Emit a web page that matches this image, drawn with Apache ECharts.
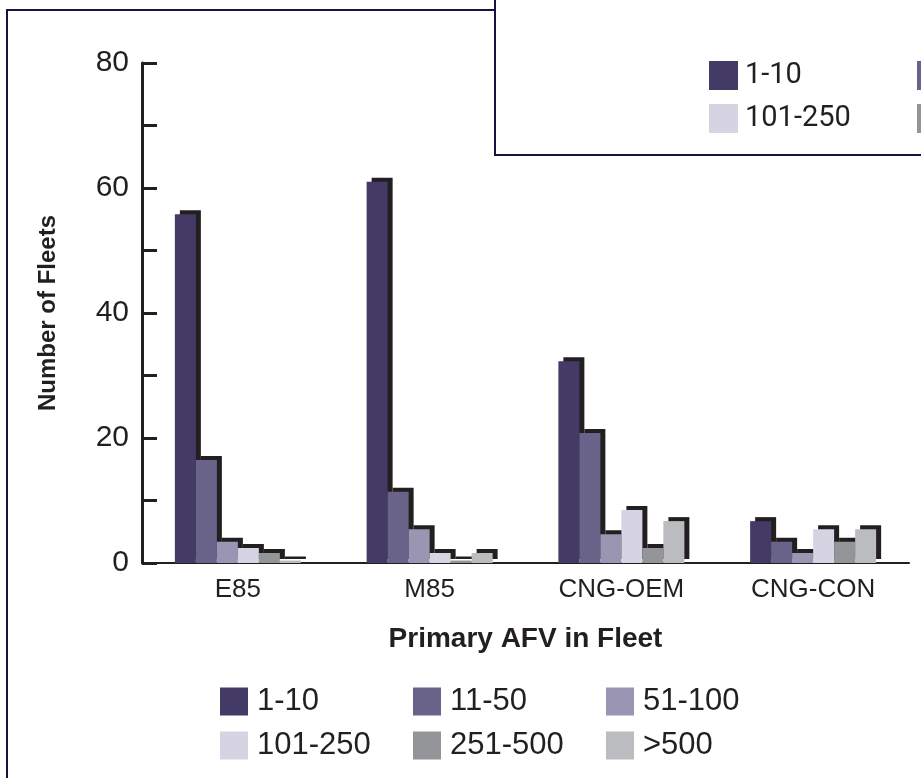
<!DOCTYPE html>
<html>
<head>
<meta charset="utf-8">
<script src="https://cdn.jsdelivr.net/npm/echarts@6/dist/echarts.min.js"></script>
<style>
html,body{margin:0;padding:0;background:#fff;}
#chart{width:921px;height:778px;}
</style>
</head>
<body>
<div id="chart"></div>
<script>
const categories = ['E85', 'M85', 'CNG-OEM', 'CNG-CON'];
const seriesNames = ['1-10', '11-50', '51-100', '101-250', '251-500', '>500'];
const fleet_1_10 = [55.8, 61, 32.3, 6.7];
const fleet_11_50 = [16.5, 11.4, 20.8, 3.4];
const fleet_51_100 = [3.4, 5.4, 4.6, 1.6];
const fleet_101_250 = [2.4, 1.6, 8.5, 5.4];
const fleet_251_500 = [1.6, 0.4, 2.4, 3.4];
const fleet_over_500 = [0.4, 1.6, 6.7, 5.4];
const yTicks = [0, 20, 40, 60, 80];

const seriesValues = [fleet_1_10, fleet_11_50, fleet_51_100, fleet_101_250, fleet_251_500, fleet_over_500];
const colors = ['#433a66', '#6a6389', '#9a95b3', '#d6d3e3', '#949599', '#bbbcc0'];
const ink = '#231f20';
const sans = "'Liberation Sans', Arial, sans-serif";

const chart = echarts.init(document.getElementById('chart'), null, {renderer: 'canvas'});

const series = seriesNames.map((name, i) => ({
  name: name,
  type: 'bar',
  data: seriesValues[i],
  barWidth: 21,
  barGap: '0%',
  itemStyle: {
    color: colors[i],
    shadowColor: ink,
    shadowBlur: 0,
    shadowOffsetX: 5,
    shadowOffsetY: -4
  },
  emphasis: {disabled: true}
}));

const topLegendStyle = {
  selectedMode: false,
  orient: 'vertical',
  top: 61,
  padding: 0,
  itemWidth: 29,
  itemHeight: 29,
  itemGap: 14,
  icon: 'rect',
  z: 6,
  textStyle: {fontFamily: 'Roboto, sans-serif', fontSize: 29, color: ink, lineHeight: 29, padding: [0, 0, 0, 2]}
};

chart.setOption({
  animation: false,
  color: colors,
  grid: {left: 142, right: 12, top: 63, bottom: 215, containLabel: false},
  xAxis: {
    type: 'category',
    data: categories,
    name: 'Primary AFV in Fleet',
    nameLocation: 'middle',
    nameGap: 62,
    nameTextStyle: {fontFamily: sans, fontWeight: 'bold', fontSize: 28, color: ink},
    axisLine: {lineStyle: {color: ink, width: 2}},
    axisTick: {inside: true, length: 13, interval: 0, lineStyle: {color: ink, width: 3}},
    axisLabel: {fontFamily: sans, fontSize: 26, color: ink, margin: 14, interval: 0},
    splitLine: {show: false}
  },
  yAxis: {
    type: 'value',
    min: 0,
    max: 80,
    interval: 10,
    name: 'Number of Fleets',
    nameLocation: 'middle',
    nameGap: 82,
    nameRotate: 90,
    nameTextStyle: {fontFamily: sans, fontWeight: 'bold', fontSize: 24, color: ink},
    axisLine: {show: true, lineStyle: {color: ink, width: 3}},
    axisTick: {show: true, inside: true, length: 15, lineStyle: {color: ink, width: 3}},
    axisLabel: {
      fontFamily: sans, fontSize: 30, color: ink, margin: 13,
      formatter: v => (yTicks.indexOf(v) >= 0 ? String(v) : '')
    },
    splitLine: {show: false}
  },
  legend: [
    {
      data: seriesNames,
      selectedMode: false,
      left: 220,
      top: 686,
      width: 620,
      padding: 0,
      orient: 'horizontal',
      itemWidth: 28,
      itemHeight: 28,
      itemGap: 13,
      icon: 'rect',
      z: 6,
      textStyle: {fontFamily: sans, fontSize: 31, color: ink, lineHeight: 28, width: 143, padding: [0, 0, 0, 4]}
    },
    Object.assign({}, topLegendStyle, {data: [seriesNames[0], seriesNames[3]], left: 709}),
    Object.assign({}, topLegendStyle, {data: [seriesNames[1], seriesNames[4]], left: 917})
  ],
  graphic: [
    {
      type: 'rect',
      z: 1,
      shape: {x: 7, y: 10, width: 1200, height: 1200},
      style: {fill: 'none', stroke: '#1b1040', lineWidth: 2}
    },
    {
      type: 'rect',
      z: 3,
      shape: {x: 495, y: -20, width: 600, height: 175},
      style: {fill: '#ffffff', stroke: '#1b1040', lineWidth: 2}
    }
  ],
  series: series
});
</script>
</body>
</html>
